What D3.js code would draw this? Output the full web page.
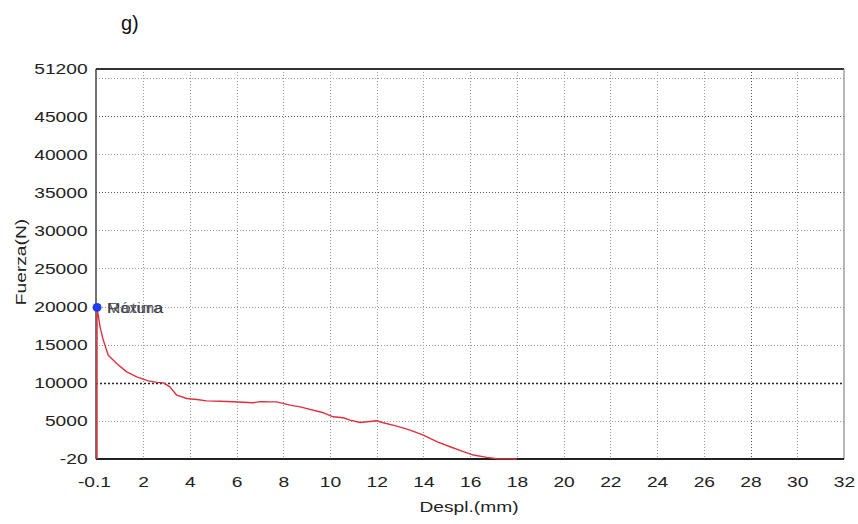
<!DOCTYPE html>
<html>
<head>
<meta charset="utf-8">
<script src="https://cdn.jsdelivr.net/npm/d3@7"></script>
<style>
  html, body { margin: 0; padding: 0; background: #fff; }
  svg { display: block; }
  text { font-family: "Liberation Sans", Arial, sans-serif; }
</style>
</head>
<body>
<svg id="chart" width="858" height="524"></svg>
<script>
// Force–displacement record (Despl. in mm, Fuerza in N)
const despl = [0.03, 0.03, 0.03, 0.16, 0.30, 0.51, 0.87, 1.30, 1.73, 2.22, 2.60, 2.87, 3.15, 3.44, 3.87, 4.30, 4.72, 5.30, 5.86, 6.71, 7.00, 7.29, 7.72, 8.29, 8.72, 9.72, 10.14, 10.57, 10.86, 11.29, 12.00, 12.28, 12.86, 13.43, 14.00, 14.57, 15.14, 15.71, 16.14, 16.71, 17.14, 18.00];
const fuerza = [-20, 10800, 19890, 17310, 15570, 13600, 12520, 11420, 10760, 10240, 10050, 9980, 9450, 8360, 7930, 7800, 7620, 7560, 7490, 7360, 7520, 7490, 7480, 7050, 6830, 6050, 5520, 5400, 5090, 4780, 5000, 4740, 4300, 3780, 3120, 2250, 1590, 940, 500, 200, 20, -20];

// Axis ticks
const xTicks = [-0.1, 2, 4, 6, 8, 10, 12, 14, 16, 18, 20, 22, 24, 26, 28, 30, 32];
const yTicks = [-20, 5000, 10000, 15000, 20000, 25000, 30000, 35000, 40000, 45000, 51200];
const xGrid = [2, 4, 6, 8, 10, 12, 14, 16, 18, 20, 22, 24, 26, 28, 30];
const yGrid = [5000, 10000, 15000, 20000, 25000, 30000, 35000, 40000, 45000, 50000];

// Peak marker and its (overlapping) labels
const peakX = 0.03, peakY = 19890;
const peakLabels = ["Rotura", "Máxima"];

const svg = d3.select("#chart");
const pLeft = 94, pRight = 844, pTop = 69, pBottom = 459;
const wide = "scale(1.28,1)";   // the plotting software uses a wide sans face
const plain = d => String(d);   // plain hyphen-minus, as the software prints it

const x = d3.scaleLinear().domain([-0.1, 32]).range([pLeft, pRight]);
const y = d3.scaleLinear().domain([-20, 51200]).range([pBottom, pTop]);

// Panel title
svg.append("text").attr("x", 121).attr("y", 30)
  .attr("font-family", "'Open Sans', 'Noto Sans', sans-serif")
  .attr("font-size", 20).attr("fill", "#111").text("g)");

// Grid
const grid = svg.append("g");
grid.selectAll("line.v").data(xGrid).join("line")
  .attr("x1", d => Math.round(x(d)) + 0.5).attr("x2", d => Math.round(x(d)) + 0.5)
  .attr("y1", pTop).attr("y2", pBottom)
  .attr("stroke", d => d === 28 ? "#555" : "#999")
  .attr("stroke-width", 1)
  .attr("stroke-dasharray", "1,2");
grid.selectAll("line.h").data(yGrid).join("line")
  .attr("x1", pLeft + 2).attr("x2", pRight)
  .attr("y1", d => Math.round(y(d)) + 0.5).attr("y2", d => Math.round(y(d)) + 0.5)
  .attr("stroke", d => d === 10000 ? "#222" : (d === 45000 || d === 35000 ? "#555" : "#999"))
  .attr("stroke-width", d => d === 10000 ? 1.6 : 1)
  .attr("stroke-dasharray", d => d === 10000 ? "2,2" : "1,2");

// Frame
svg.append("line").attr("x1", pLeft + 2).attr("x2", pRight).attr("y1", pTop).attr("y2", pTop)
  .attr("stroke", "#333").attr("stroke-width", 2);
svg.append("line").attr("x1", pRight).attr("x2", pRight).attr("y1", pTop).attr("y2", pBottom)
  .attr("stroke", "#888").attr("stroke-width", 1.2);
svg.append("line").attr("x1", pLeft + 2).attr("x2", pLeft + 2).attr("y1", pTop).attr("y2", pBottom)
  .attr("stroke", "#444").attr("stroke-width", 1.5);
svg.append("line").attr("x1", pLeft + 2).attr("x2", pRight).attr("y1", pBottom).attr("y2", pBottom)
  .attr("stroke", "#222").attr("stroke-width", 2);

// Axes (labels only; frame drawn above)
const xAxis = svg.append("g").attr("transform", `translate(0,${pBottom})`)
  .call(d3.axisBottom(x).tickValues(xTicks).tickSize(0).tickPadding(17).tickFormat(plain));
xAxis.select(".domain").remove();
xAxis.selectAll("text").attr("font-size", 15).attr("fill", "#222")
  .attr("font-family", "'Liberation Sans', Arial, sans-serif")
  .attr("transform", wide);

const yAxis = svg.append("g").attr("transform", `translate(${pLeft},0)`)
  .call(d3.axisLeft(y).tickValues(yTicks).tickSize(0).tickPadding(5).tickFormat(plain));
yAxis.select(".domain").remove();
yAxis.selectAll("text").attr("font-size", 15).attr("fill", "#222")
  .attr("font-family", "'Liberation Sans', Arial, sans-serif")
  .attr("transform", wide);

// Axis titles
svg.append("text").attr("transform", `translate(469,512) ${wide}`).attr("text-anchor", "middle")
  .attr("font-size", 15).attr("fill", "#222").text("Despl.(mm)");
svg.append("text").attr("transform", `translate(26,262) rotate(-90) ${wide}`)
  .attr("text-anchor", "middle").attr("font-size", 15).attr("fill", "#222").text("Fuerza(N)");

// Curve
const pts = despl.map((d, i) => [d, fuerza[i]]);
svg.append("path").datum(pts)
  .attr("d", d3.line().x(d => x(d[0])).y(d => y(d[1])))
  .attr("fill", "none").attr("stroke", "#e0303e").attr("stroke-width", 1.4)
  .attr("stroke-linejoin", "round");

// Peak marker
svg.append("circle").attr("cx", x(peakX)).attr("cy", y(peakY)).attr("r", 4.5)
  .attr("fill", "#1f3df0");
svg.selectAll("text.peak").data(peakLabels).join("text").attr("class", "peak")
  .attr("x", x(peakX) + 10).attr("y", y(peakY) + 6)
  .attr("font-size", 15).attr("fill", "#2a2a33").attr("fill-opacity", 0.75)
  .attr("textLength", 56).attr("lengthAdjust", "spacingAndGlyphs")
  .text(d => d);
</script>
</body>
</html>
